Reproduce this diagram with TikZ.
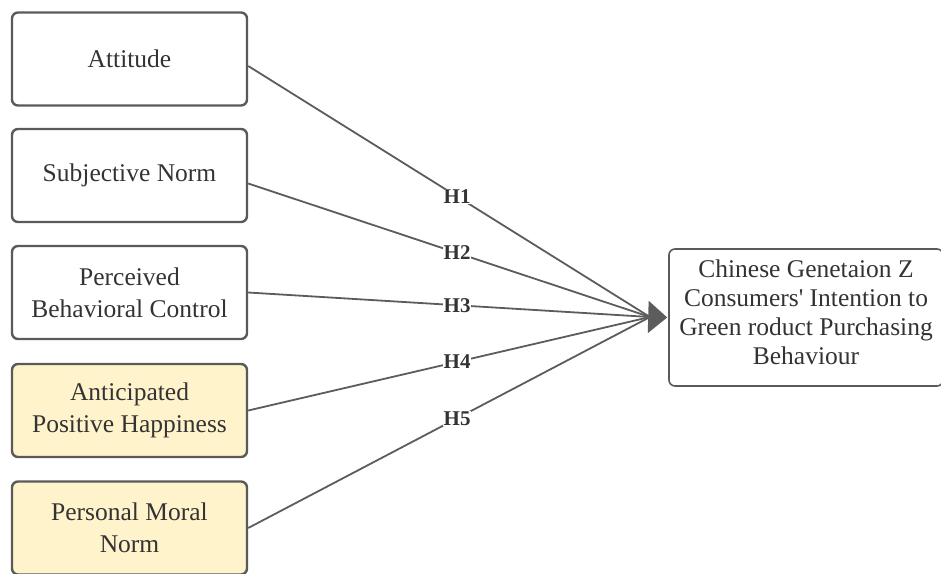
\documentclass[tikz,border=0pt]{standalone}
\usepackage{fontspec}
\setmainfont{Liberation Serif}
\usetikzlibrary{arrows.meta}
\definecolor{bordergray}{HTML}{5A5A5A}
\definecolor{linegray}{HTML}{5C5C5C}
\definecolor{textgray}{HTML}{333333}
\definecolor{paleyellow}{HTML}{FFF3CC}
\begin{document}
\begin{tikzpicture}[x=1pt,y=-1pt,
  factorbox/.style={draw=bordergray,line width=2.4pt,rounded corners=6pt,
    minimum width=235pt,minimum height=93pt,align=center,text=textgray,
    font=\fontsize{25.5}{32}\selectfont,inner sep=2pt},
  yellowbox/.style={factorbox,fill=paleyellow},
  targetbox/.style={draw=bordergray,line width=1.6pt,rounded corners=6pt,
    minimum width=274pt,minimum height=137pt,align=center,text=textgray,
    font=\fontsize{25.5}{29}\selectfont,inner sep=2pt,text depth=10pt},
  link/.style={draw=linegray,line width=1.8pt},
  hlabel/.style={font=\fontsize{21}{21}\selectfont\bfseries,text=textgray,
    fill=white,inner sep=0.5pt,pos=0.52}]
\useasboundingbox (0,0) rectangle (941,573);
\node[factorbox] (att) at (129.5,59) {Attitude};
\node[factorbox] (sn) at (129.5,175.5) {Subjective Norm};
\node[factorbox] (pbc) at (129.5,292.5) {Perceived\\Behavioral Control};
\node[yellowbox] (aph) at (129.5,410.5) {Anticipated\\Positive Happiness};
\node[yellowbox] (pmn) at (129.5,528) {Personal Moral\\Norm};
\node[targetbox] (tgt) at (806,317.5) {Chinese Genetaion Z\\Consumers\textquotesingle{} Intention to\\Green roduct Purchasing\\Behaviour};
\coordinate (hub) at (650,317);
\draw[link] ([yshift=-7pt]att.east) -- node[hlabel] {H1} (hub);
\draw[link] ([yshift=-8pt]sn.east) -- node[hlabel] {H2} (hub);
\draw[link] (pbc.east) -- node[hlabel] {H3} (hub);
\draw[link] (aph.east) -- node[hlabel] {H4} (hub);
\draw[link] (pmn.east) -- node[hlabel] {H5} (hub);
\draw[link,-{Triangle[length=19pt,width=32pt]},shorten >=1pt] (hub) -- (tgt.west);
\end{tikzpicture}
\end{document}
